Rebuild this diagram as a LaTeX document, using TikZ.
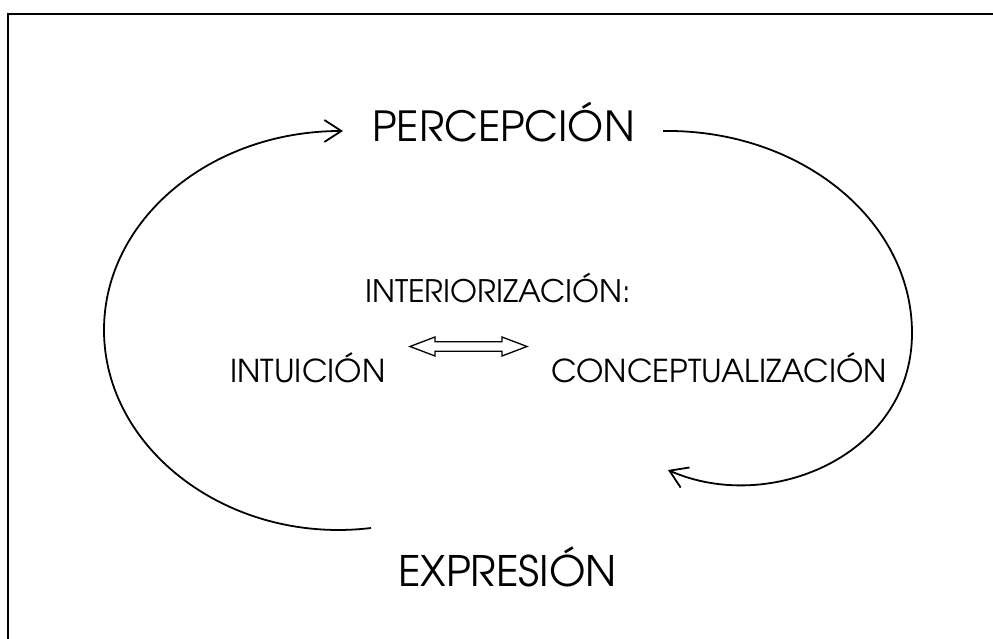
\documentclass[tikz,border=0pt]{standalone}
\usepackage{fontspec}
\setmainfont{TeX Gyre Adventor}
\usetikzlibrary{arrows.meta}
\begin{document}
\begin{tikzpicture}[x=1pt,y=-1pt,
  curve/.style={line width=1.8pt},
  barb/.style={-{Straight Barb[length=17pt,width=22pt,line width=1.8pt]}},
  bigtxt/.style={inner sep=0pt,anchor=base,font=\fontsize{41.5}{41.5}\selectfont},
  midtxt/.style={inner sep=0pt,anchor=base,font=\fontsize{31.5}{31.5}\selectfont},
  frame/.style={line width=2pt}]
\useasboundingbox (0,0) rectangle (993,639);
\draw[frame] (8,660) -- (8,14) -- (1010,14);
\node[bigtxt] (perc) at (503.5,142) {PERCEPCIÓN};
\node[bigtxt,font=\fontsize{42}{42}\selectfont] (expr) at (507.5,586) {EXPRESIÓN};
\node[midtxt,font=\fontsize{31}{31}\selectfont] (inter) at (498,302) {INTERIORIZACIÓN:};
\node[midtxt] (intu) at (308,382) {INTUICIÓN};
\node[midtxt] (conc) at (719,382) {CONCEPTUALIZACIÓN};
\coordinate (lb) at (371,528);
\coordinate (lt) at (343,131);
\coordinate (rt) at (663,131);
\coordinate (rb) at (668,470);
\draw[curve,barb] (lb) .. controls (230,545) and (104,450) .. (104,330)
  .. controls (104,220) and (210,131) .. (lt);
\draw[curve,barb] (rt) .. controls (800,129) and (912,220) .. (912,333)
  .. controls (912,455) and (770,515) .. (rb);
\coordinate (dbl) at (468.5,346.5);
\draw[line width=1.3pt,line join=miter] (dbl) ++(-58.5,0) -- ++(25,-9.5) -- ++(0,4.7) -- ++(67,0) -- ++(0,-4.7)
  -- ++(25,9.5) -- ++(-25,9.5) -- ++(0,-4.7) -- ++(-67,0) -- ++(0,4.7) -- cycle;
\end{tikzpicture}
\end{document}
